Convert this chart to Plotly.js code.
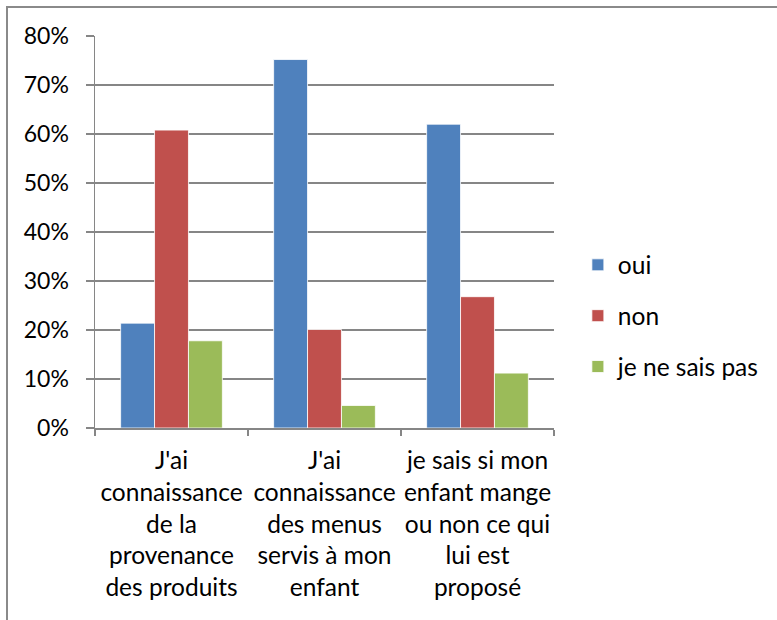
<!DOCTYPE html>
<html>
<head>
<meta charset="utf-8">
<script src="https://cdn.plot.ly/plotly-3.0.1.min.js"></script>
<style>
  html, body { margin: 0; padding: 0; background: #fff; }
  #wrap { position: relative; width: 777px; height: 620px; overflow: hidden; }
  #frame { position: absolute; left: 6px; top: 6px; width: 800px; height: 700px;
           border-left: 2px solid #8a8a8a; border-top: 2px solid #8a8a8a; pointer-events: none; }
  #chart { position: absolute; left: 0; top: 0; width: 777px; height: 620px; }
</style>
</head>
<body>
<div id="wrap">
  <div id="chart"></div>
  <div id="frame"></div>
</div>
<script>
const categories = [
  "J'ai<br>connaissance<br>de la<br>provenance<br>des produits",
  "J'ai<br>connaissance<br>des menus<br>servis à mon<br>enfant",
  "je sais si mon<br>enfant mange<br>ou non ce qui<br>lui est<br>proposé"
];
const seriesNames = ["oui", "non", "je ne sais pas"];
const oui = [0.214, 0.752, 0.620];
const non = [0.608, 0.201, 0.268];
const jeNeSaisPas = [0.178, 0.046, 0.112];
const yTickVals = [0, 0.1, 0.2, 0.3, 0.4, 0.5, 0.6, 0.7, 0.8];
const colors = ["#4f81bd", "#c0504d", "#9bbb59"];

const font = "Lato, 'Liberation Sans', sans-serif";
const values = [oui, non, jeNeSaisPas];
const traces = values.map((v, i) => ({
  type: "bar",
  name: seriesNames[i],
  x: categories,
  y: v,
  legendgroup: "g" + i,
  marker: { color: colors[i], line: { color: "#ffffff", width: 0.8 } },
  hoverinfo: "skip"
}));

const layout = {
  width: 777, height: 620,
  margin: { l: 95, r: 221, t: 36, b: 192 },
  paper_bgcolor: "#ffffff", plot_bgcolor: "#ffffff",
  font: { family: font, size: 23, color: "#000000" },
  barmode: "group",
  bargap: 0.335, bargroupgap: 0,
  showlegend: true,
  legend: {
    x: 1.052, xanchor: "left", xref: "paper",
    y: 0.286, yanchor: "middle",
    font: { family: font, size: 24.5, color: "#000" },
    tracegroupgap: 16,
    itemwidth: 30,
    bgcolor: "rgba(0,0,0,0)",
    borderwidth: 0
  },
  xaxis: {
    type: "category",
    showgrid: false,
    showline: true, linecolor: "#868686", linewidth: 1.5,
    ticks: "outside", tickson: "boundaries", ticklen: 6, tickcolor: "#868686", tickwidth: 1.5,
    tickfont: { family: font, size: 24.5, color: "#000" },
    tickangle: 0,
    ticklabelstandoff: 10,
    fixedrange: true
  },
  yaxis: {
    range: [0, 0.8],
    tickvals: yTickVals,
    tickformat: ".0%",
    showgrid: true, gridcolor: "#868686", gridwidth: 1.5,
    showline: true, linecolor: "#868686", linewidth: 1.5,
    zeroline: false,
    ticks: "outside", ticklen: 8, tickcolor: "#868686", tickwidth: 1.5,
    tickfont: { family: font, size: 23, color: "#000" },
    ticklabelstandoff: 12,
    fixedrange: true
  }
};

Plotly.newPlot("chart", traces, layout, { displayModeBar: false, staticPlot: true });
</script>
</body>
</html>
